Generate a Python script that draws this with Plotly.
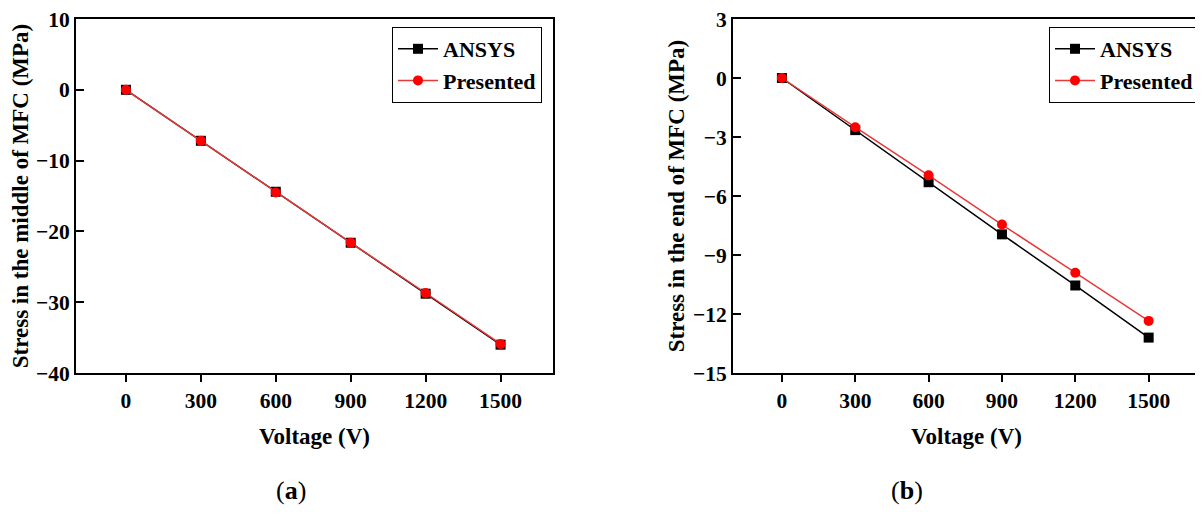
import plotly.graph_objects as go

voltage = [0, 300, 600, 900, 1200, 1500]
mid_ansys = [0, -7.2, -14.4, -21.6, -28.8, -36.0]
mid_presented = [0, -7.2, -14.5, -21.6, -28.7, -35.9]
end_ansys = [0, -2.65, -5.3, -7.95, -10.55, -13.2]
end_presented = [0, -2.5, -4.95, -7.45, -9.9, -12.35]
x_ticks = [0, 300, 600, 900, 1200, 1500]
ya_ticks = [10, 0, -10, -20, -30, -40]
yb_ticks = [3, 0, -3, -6, -9, -12, -15]

OFF = 8  # default page body margin
W, H = 1203 - OFF, 521 - OFF
FONT = "Liberation Serif"
BLACK = "#000000"
RED = "#ff0000"
LRED = "#e8393a"

def px(x):
    return (x - OFF) / W

def py(y):
    return 1 - (y - OFF) / H

fig = go.Figure()

# panel (a)
fig.add_trace(go.Scatter(x=voltage, y=mid_ansys, name="ANSYS", mode="lines+markers",
                         line=dict(color=BLACK, width=1.5),
                         marker=dict(symbol="square", size=10, color=BLACK),
                         xaxis="x", yaxis="y", legend="legend"))
fig.add_trace(go.Scatter(x=voltage, y=mid_presented, name="Presented", mode="lines+markers",
                         line=dict(color=LRED, width=1.5),
                         marker=dict(symbol="circle", size=10, color=RED),
                         xaxis="x", yaxis="y", legend="legend"))
# panel (b)
fig.add_trace(go.Scatter(x=voltage, y=end_ansys, name="ANSYS", mode="lines+markers",
                         line=dict(color=BLACK, width=1.5),
                         marker=dict(symbol="square", size=10, color=BLACK),
                         xaxis="x2", yaxis="y2", legend="legend2"))
fig.add_trace(go.Scatter(x=voltage, y=end_presented, name="Presented", mode="lines+markers",
                         line=dict(color=LRED, width=1.5),
                         marker=dict(symbol="circle", size=10, color=RED),
                         xaxis="x2", yaxis="y2", legend="legend2"))

tickfont = dict(family=FONT, size=21.5, color=BLACK, weight="bold")
titlefont = dict(family=FONT, size=23, color=BLACK, weight="bold")

def xaxis(domain, anchor):
    return dict(domain=domain, anchor=anchor, range=[-200, 1710], automargin=False,
                tickvals=x_ticks, ticks="outside", ticklen=7, tickwidth=1.5, tickcolor=BLACK,
                showline=True, linecolor=BLACK, linewidth=2, mirror=True,
                showgrid=False, zeroline=False, tickfont=tickfont,
                ticklabeloverflow="allow",
                title=dict(text="Voltage (V)", font=titlefont, standoff=16))

def yaxis(domain, anchor, rng, ticks, title):
    return dict(domain=domain, anchor=anchor, range=rng, automargin=False,
                tickvals=ticks, ticks="inside", ticklen=8, tickwidth=1.5, tickcolor=BLACK,
                showline=True, linecolor=BLACK, linewidth=2, mirror=True,
                showgrid=False, zeroline=False, tickfont=tickfont,
                ticklabeloverflow="allow",
                title=dict(text=title, font=titlefont, standoff=2))

ydom = [py(373), py(19)]
legfont = dict(family=FONT, size=22, color=BLACK, weight="bold")
fig.update_layout(
    width=W, height=H,
    margin=dict(l=0, r=0, t=0, b=0, autoexpand=False),
    paper_bgcolor="white", plot_bgcolor="white",
    showlegend=True,
    xaxis=xaxis([px(76), px(553)], "y"),
    yaxis=yaxis(ydom, "x", [-40, 10], ya_ticks, "Stress in the middle of MFC (MPa)"),
    xaxis2=xaxis([px(733), px(1200)], "y2"),
    yaxis2=yaxis(ydom, "x2", [-15, 3], yb_ticks, "Stress in the end of MFC (MPa)"),
    legend=dict(x=px(542), y=py(27), xanchor="right", yanchor="top",
                bordercolor=BLACK, borderwidth=1, bgcolor="white",
                font=legfont, tracegroupgap=0, itemwidth=40),
    legend2=dict(x=px(1199), y=py(27), xanchor="right", yanchor="top",
                 bordercolor=BLACK, borderwidth=1, bgcolor="white",
                 font=legfont, tracegroupgap=0, itemwidth=40),
    annotations=[
        dict(text="(<b>a</b>)", x=px(274), y=py(507), xref="paper", yref="paper",
             showarrow=False, font=dict(family=FONT, size=26, color=BLACK)),
        dict(text="(<b>b</b>)", x=px(925), y=py(507), xref="paper", yref="paper",
             showarrow=False, font=dict(family=FONT, size=26, color=BLACK)),
    ],
)

fig.write_html("out.html")
